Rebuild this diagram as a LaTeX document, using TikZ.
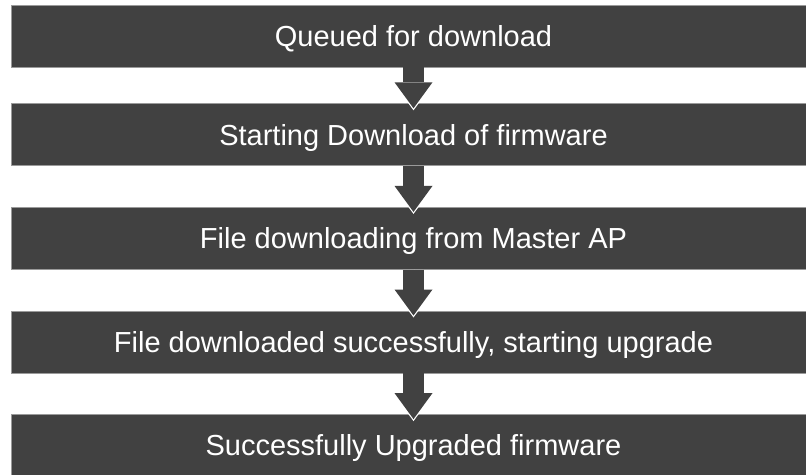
\documentclass[tikz,border=0pt]{standalone}
\usepackage{fontspec}
\setmainfont{Liberation Sans}
\usetikzlibrary{arrows.meta,positioning}
\definecolor{slab}{HTML}{414141}
\definecolor{rim}{HTML}{9A9A9A}

\begin{document}
\begin{tikzpicture}[x=1pt,y=1pt,
  stage/.style={draw=rim,line width=0.6pt,fill=slab,minimum width=805pt,
                minimum height=62pt,inner sep=0pt,text=white,
                text height=21pt,text depth=0pt,
                font=\fontsize{29}{34}\selectfont},
  flow/.style={line width=21pt,draw=slab,
               -{Triangle[width=38pt,length=26pt,line width=0pt]}},
  halo/.style={line width=2pt,draw=white,shorten >=-2pt,
               -{Triangle[width=43pt,length=29pt,line width=0pt]}}]
\useasboundingbox (0,0) rectangle (806,-474);
\node[stage] (queued) at (413.5,-36) {Queued for download};
\node[stage,below=36pt of queued] (start) {Starting Download of firmware};
\node[stage,below=41pt of start] (fetch) {File downloading from Master AP};
\node[stage,below=41pt of fetch] (done) {File downloaded successfully, starting upgrade};
\node[stage,below=41pt of done] (upgraded) {Successfully Upgraded firmware};
% white rim round the tips, then the arrows
\foreach \a/\b in {queued/start,start/fetch,fetch/done,done/upgraded}
  \draw[halo] (\a.south) -- ([yshift=-5pt]\b.north);
\foreach \a/\b in {queued/start,start/fetch,fetch/done,done/upgraded}
  \draw[flow] (\a.south) -- ([yshift=-5pt]\b.north);
\end{tikzpicture}
\end{document}
